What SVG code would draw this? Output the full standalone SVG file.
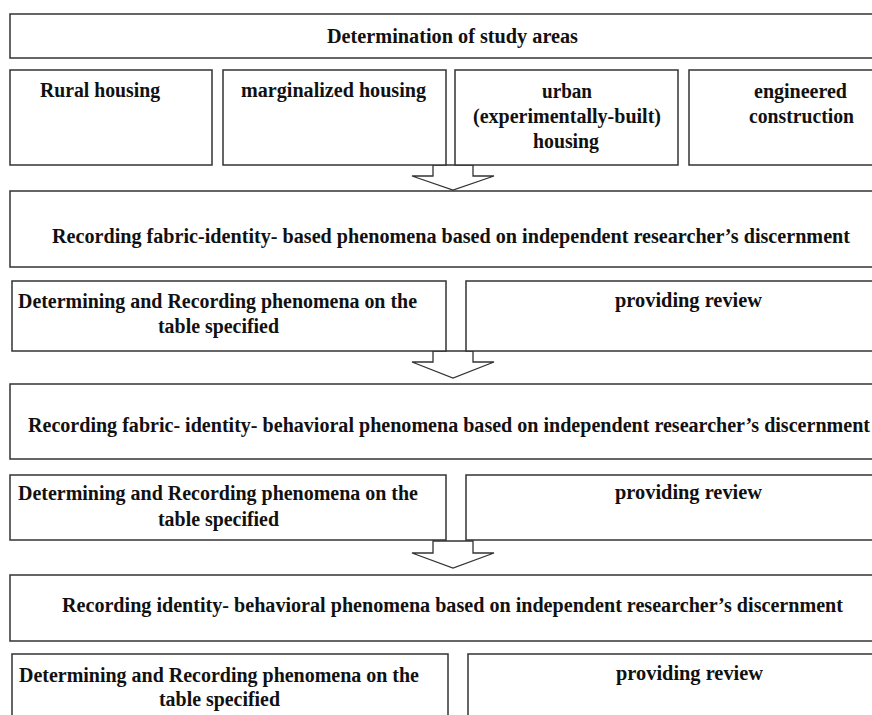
<svg xmlns="http://www.w3.org/2000/svg" width="872" height="715" viewBox="0 0 872 715">
<style>
.box{fill:#fff;stroke:#333;stroke-width:1.5}
.arr{fill:#fff;stroke:#333;stroke-width:1.3;stroke-linejoin:miter}
text{font-family:"Liberation Serif","Times New Roman",serif;font-weight:bold;font-size:20px;fill:#111}
</style>
<rect width="872" height="715" fill="#fff"/>
<g id="connectors">
<polygon class="arr" points="433,165 473,165 473,176 494,176 453,190 412,176 433,176"/>
<polygon class="arr" points="433,351 473,351 473,362 494,362 453,378 412,362 433,362"/>
<polygon class="arr" points="433,541 473,541 473,553 494,553 453,568 412,553 433,553"/>
</g>
<g id="n-study-areas"><rect class="box" x="10" y="14" width="870" height="44"/><text x="327" y="43" textLength="251" lengthAdjust="spacingAndGlyphs">Determination of study areas</text></g>
<g id="n-rural"><rect class="box" x="10" y="70" width="202" height="95"/><text x="40" y="97" textLength="120" lengthAdjust="spacingAndGlyphs">Rural housing</text></g>
<g id="n-marginal"><rect class="box" x="223" y="70" width="223" height="95"/><text x="241" y="97" textLength="185" lengthAdjust="spacingAndGlyphs">marginalized housing</text></g>
<g id="n-urban"><rect class="box" x="455" y="70" width="223" height="95"/><text x="542" y="98" textLength="50" lengthAdjust="spacingAndGlyphs">urban</text><text x="473" y="123" textLength="188" lengthAdjust="spacingAndGlyphs">(experimentally-built)</text><text x="533" y="148" textLength="66" lengthAdjust="spacingAndGlyphs">housing</text></g>
<g id="n-engineered"><rect class="box" x="689" y="70" width="191" height="95"/><text x="754" y="98" textLength="93" lengthAdjust="spacingAndGlyphs">engineered</text><text x="749" y="123" textLength="105" lengthAdjust="spacingAndGlyphs">construction</text></g>
<g id="n-record1"><rect class="box" x="10" y="191" width="870" height="76"/><text x="52" y="243" textLength="798" lengthAdjust="spacingAndGlyphs">Recording fabric-identity- based phenomena based on independent  researcher’s discernment</text></g>
<g id="n-determ1"><rect class="box" x="12" y="281" width="434" height="70"/><text x="18" y="308" textLength="399" lengthAdjust="spacingAndGlyphs">Determining and Recording phenomena on the</text><text x="158" y="333" textLength="121" lengthAdjust="spacingAndGlyphs">table specified</text></g>
<g id="n-review1"><rect class="box" x="466" y="281" width="414" height="70"/><text x="615" y="307" textLength="147" lengthAdjust="spacingAndGlyphs">providing review</text></g>
<g id="n-record2"><rect class="box" x="10" y="384" width="870" height="75"/><text x="28" y="432" textLength="842" lengthAdjust="spacingAndGlyphs">Recording fabric- identity- behavioral phenomena based on independent  researcher’s discernment</text></g>
<g id="n-determ2"><rect class="box" x="10" y="475" width="436" height="65"/><text x="18" y="500" textLength="400" lengthAdjust="spacingAndGlyphs">Determining and Recording phenomena on the</text><text x="158" y="526" textLength="121" lengthAdjust="spacingAndGlyphs">table specified</text></g>
<g id="n-review2"><rect class="box" x="466" y="475" width="414" height="65"/><text x="615" y="499" textLength="147" lengthAdjust="spacingAndGlyphs">providing review</text></g>
<g id="n-record3"><rect class="box" x="10" y="575" width="870" height="66"/><text x="62" y="612" textLength="781" lengthAdjust="spacingAndGlyphs">Recording identity- behavioral phenomena based on independent  researcher’s discernment</text></g>
<g id="n-determ3"><rect class="box" x="12" y="654" width="436" height="70"/><text x="19" y="682" textLength="400" lengthAdjust="spacingAndGlyphs">Determining and Recording phenomena on the</text><text x="159" y="706" textLength="121" lengthAdjust="spacingAndGlyphs">table specified</text></g>
<g id="n-review3"><rect class="box" x="468" y="654" width="412" height="70"/><text x="616" y="680" textLength="147" lengthAdjust="spacingAndGlyphs">providing review</text></g>
</svg>
